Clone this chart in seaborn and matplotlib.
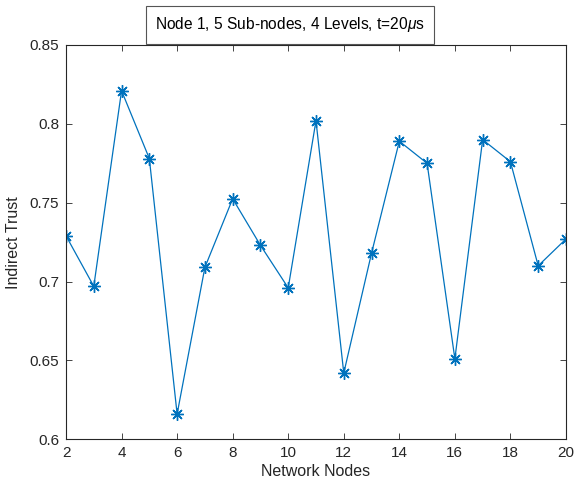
import matplotlib
matplotlib.use("Agg")
import matplotlib.pyplot as plt
import seaborn as sns
import pandas as pd

nodes = [2, 3, 4, 5, 6, 7, 8, 9, 10, 11, 12, 13, 14, 15, 16, 17, 18, 19, 20]
trust = [0.729, 0.697, 0.821, 0.778, 0.616, 0.709, 0.7525, 0.723, 0.696, 0.802,
         0.642, 0.718, 0.789, 0.775, 0.651, 0.790, 0.776, 0.710, 0.727]
xticks = [2, 4, 6, 8, 10, 12, 14, 16, 18, 20]
yticks = [0.6, 0.65, 0.7, 0.75, 0.8, 0.85]
ytick_labels = ["0.6", "0.65", "0.7", "0.75", "0.8", "0.85"]
legend_text = r"Node 1, 5 Sub-nodes, 4 Levels, t=20$\mu$s"

sns.set_style("ticks")
plt.rcParams['font.family'] = ['Liberation Sans', 'DejaVu Sans']
plt.rcParams['mathtext.fontset'] = 'custom'
plt.rcParams['mathtext.it'] = 'Liberation Sans:italic'
plt.rcParams['mathtext.rm'] = 'Liberation Sans'

df = pd.DataFrame({"Network Nodes": nodes, "Indirect Trust": trust})

fig = plt.figure(figsize=(5.75, 4.88), dpi=100)
ax = fig.add_axes([0.1148, 0.0998, 0.8695, 0.808])
sns.lineplot(data=df, x="Network Nodes", y="Indirect Trust", ax=ax,
             color="#0072BD", linewidth=0.9, marker=(8, 2, 0), markersize=9,
             markeredgecolor="#0072BD", markerfacecolor="#0072BD", markeredgewidth=1.0)

ax.set_xlim(2, 20)
ax.set_ylim(0.6, 0.85)
ax.set_xticks(xticks)
ax.set_yticks(yticks)
ax.set_yticklabels(ytick_labels)
ax.tick_params(direction="in", top=True, right=True, length=4, width=0.6,
               colors="#262626", labelsize=11, labelcolor="#262626", pad=5)
for s in ax.spines.values():
    s.set_color("#262626")
    s.set_linewidth(0.8)
ax.set_xlabel("Network Nodes", fontsize=11.5, color="#262626", labelpad=3)
ax.set_ylabel("Indirect Trust", fontsize=11.5, color="#262626", labelpad=6)

fig.text(0.504, 0.9488, legend_text, ha="center", va="center", fontsize=11.2,
         color="#000000",
         bbox=dict(boxstyle="square,pad=0.6", facecolor="white", edgecolor="#555555", linewidth=0.8))

fig.savefig("out.png", dpi=100)
